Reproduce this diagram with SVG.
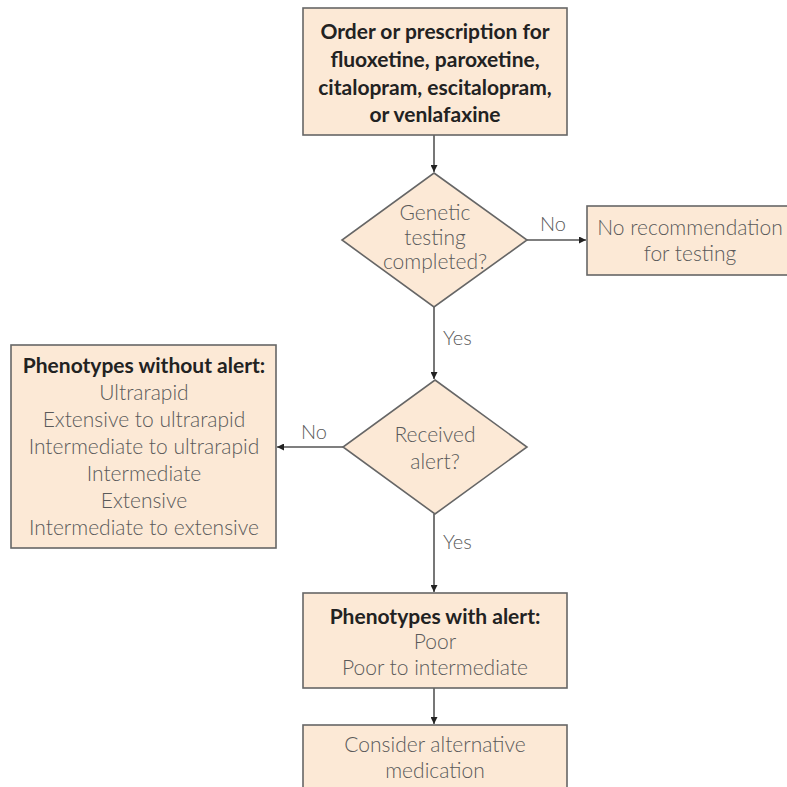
<svg xmlns="http://www.w3.org/2000/svg" width="787" height="787" viewBox="0 0 787 787">
<defs>
<style>
.box{fill:#fce9d6;stroke:#666;stroke-width:1.6}
.t{font-family:Lato,"Open Sans","Liberation Sans",sans-serif;font-size:21px;font-weight:300;fill:#5a5a5a;text-anchor:middle}
.b{font-family:Lato,"Open Sans","Liberation Sans",sans-serif;font-size:21px;font-weight:700;fill:#222;text-anchor:middle}
.lbl{font-family:Lato,"Open Sans","Liberation Sans",sans-serif;font-size:20px;font-weight:300;fill:#5a5a5a}
.ln{stroke:#555;stroke-width:1.6;fill:none}
</style>
<marker id="ah" viewBox="0 0 10 10" refX="10" refY="5" markerWidth="7" markerHeight="7" orient="auto" markerUnits="userSpaceOnUse">
<path d="M0,0 L10,5 L0,10 z" fill="#222"/>
</marker>
</defs>
<rect width="787" height="787" fill="#fff"/>
<g id="connectors">
<line class="ln" x1="434" y1="135" x2="434" y2="172" marker-end="url(#ah)"/>
<line class="ln" x1="527" y1="240" x2="586" y2="240" marker-end="url(#ah)"/>
<line class="ln" x1="434" y1="307" x2="434" y2="379" marker-end="url(#ah)"/>
<line class="ln" x1="343" y1="447" x2="277" y2="447" marker-end="url(#ah)"/>
<line class="ln" x1="434" y1="514" x2="434" y2="592" marker-end="url(#ah)"/>
<line class="ln" x1="434" y1="688" x2="434" y2="724" marker-end="url(#ah)"/>
<text class="lbl" x="540" y="231">No</text>
<text class="lbl" x="443" y="345">Yes</text>
<text class="lbl" x="301" y="439">No</text>
<text class="lbl" x="443" y="549">Yes</text>
</g>
<g id="start">
<rect class="box" x="303" y="8" width="264" height="127"/>
<text class="b" x="435" y="39">Order or prescription for</text>
<text class="b" x="435" y="67">fluoxetine, paroxetine,</text>
<text class="b" x="435" y="95">citalopram, escitalopram,</text>
<text class="b" x="435" y="122">or venlafaxine</text>
</g>
<g id="genetic">
<polygon class="box" points="434,173 527,240 434,307 342,240"/>
<text class="t" x="435" y="220">Genetic</text>
<text class="t" x="435" y="245">testing</text>
<text class="t" x="435" y="269">completed?</text>
</g>
<g id="norec">
<rect class="box" x="587" y="206" width="205" height="69"/>
<text class="t" x="690" y="235">No recommendation</text>
<text class="t" x="690" y="261">for testing</text>
</g>
<g id="alert">
<polygon class="box" points="435,380 527,447 435,514 343,447"/>
<text class="t" x="435" y="442">Received</text>
<text class="t" x="435" y="469">alert?</text>
</g>
<g id="without">
<rect class="box" x="11" y="345" width="265" height="203"/>
<text class="b" x="144" y="373">Phenotypes without alert:</text>
<text class="t" x="144" y="400">Ultrarapid</text>
<text class="t" x="144" y="427">Extensive to ultrarapid</text>
<text class="t" x="144" y="454">Intermediate to ultrarapid</text>
<text class="t" x="144" y="481">Intermediate</text>
<text class="t" x="144" y="508">Extensive</text>
<text class="t" x="144" y="535">Intermediate to extensive</text>
</g>
<g id="with">
<rect class="box" x="303" y="593" width="264" height="95"/>
<text class="b" x="435" y="624">Phenotypes with alert:</text>
<text class="t" x="435" y="649">Poor</text>
<text class="t" x="435" y="675">Poor to intermediate</text>
</g>
<g id="consider">
<rect class="box" x="303" y="725" width="264" height="80"/>
<text class="t" x="435" y="752">Consider alternative</text>
<text class="t" x="435" y="778">medication</text>
</g>
</svg>
